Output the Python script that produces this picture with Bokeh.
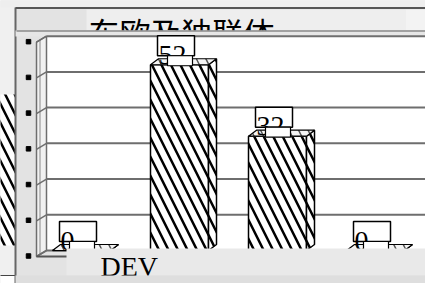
from bokeh.plotting import figure
from bokeh.models import Range1d
from bokeh.core.properties import value
from bokeh.embed import file_html
from bokeh.resources import INLINE

# ---- data ----
title_text = "东欧及独联体"
x_label = "DEV"
categories = ["A", "B", "C", "D"]
values = [0, 52, 32, 0]
y_ticks = [0, 10, 20, 30, 40, 50, 60]
value_labels = [f"{v:g}" for v in values]

# ---- layout helpers (picture pixel -> data) ----
X0, XS = 81.0, 98.0      # x of first category centre, px per category
Y0, YS = 250.0, 3.572    # y of value 0, px per unit
W, H = 425, 283


def X(px):
    return (px - X0) / XS


def Y(py):
    return (Y0 - py) / YS


def DX(n):
    return n / XS


def DY(n):
    return n / YS


p = figure(width=W, height=H,
           x_range=Range1d(X(0), X(W)), y_range=Range1d(Y(H), Y(0)),
           x_axis_type=None, y_axis_type=None,
           output_backend="svg", toolbar_location=None, min_border=0)
p.outline_line_color = None
p.background_fill_color = "#e3e3e3"
p.border_fill_color = "#e3e3e3"

HATCH = dict(hatch_pattern="\\", hatch_color="black", hatch_weight=2.5, hatch_scale=19)

# far-left strip (part of neighbouring chart)
p.quad(left=[X(-2)], right=[X(15)], bottom=[Y(H + 2)], top=[Y(-2)], fill_color="#f0f0f0", line_color=None)
p.quad(left=[X(-6)], right=[X(15)], bottom=[Y(245)], top=[Y(94)], fill_color="white", line_color=None, **HATCH)
p.quad(left=[X(-2)], right=[X(15)], bottom=[Y(H + 2)], top=[Y(275)], fill_color="white", line_color="#444444", line_width=1)
# panel top area above the frame line
p.quad(left=[X(-2)], right=[X(W + 2)], bottom=[Y(7)], top=[Y(-2)], fill_color="#eeeeee", line_color=None)
# panel borders
p.segment(x0=[X(15)], y0=[Y(7)], x1=[X(15)], y1=[Y(H + 2)], line_color="#666666", line_width=2)
p.segment(x0=[X(15)], y0=[Y(7.5)], x1=[X(W + 2)], y1=[Y(7.5)], line_color="#555555", line_width=2)

# title box
p.quad(left=[X(86)], right=[X(405)], bottom=[Y(30)], top=[Y(9)], fill_color="#eeeeee", line_color=None)
p.quad(left=[X(405)], right=[X(W + 2)], bottom=[Y(30)], top=[Y(9)], fill_color="#f3f3f3", line_color=None)
p.text(x=[X(88)], y=[Y(31)], text=[title_text], text_font=value("Noto Sans CJK SC"),
       text_font_size="31px", text_baseline="alphabetic", text_align="left", text_color="black")
# strip below title that hides the lower part of it
p.quad(left=[X(15)], right=[X(W + 2)], bottom=[Y(36)], top=[Y(30)], fill_color="#e6e6e6", line_color=None)
p.segment(x0=[X(16)], y0=[Y(30.5)], x1=[X(W + 2)], y1=[Y(30.5)], line_color="#8a8a8a", line_width=1.5)

# plot area (back wall)
top_v = y_ticks[-1]
p.quad(left=[X(46)], right=[X(430)], bottom=[0], top=[top_v], fill_color="white", line_color=None)
# left wall
p.patch(x=[X(36), X(46), X(46), X(36)], y=[top_v - DY(6), top_v, 0, -DY(6)],
        fill_color="#f1f1f1", line_color="#6e6e6e", line_width=1.5)
p.segment(x0=[X(39.5)], y0=[top_v - DY(4)], x1=[X(39.5)], y1=[-DY(4)], line_color="#8a8a8a", line_width=1)

# gridlines
n_t = len(y_ticks)
p.segment(x0=[X(46)] * n_t, y0=y_ticks, x1=[X(430)] * n_t, y1=y_ticks, line_color="#6e6e6e", line_width=2)
p.segment(x0=[X(36)] * n_t, y0=[t - DY(6) for t in y_ticks], x1=[X(46)] * n_t, y1=y_ticks,
          line_color="#6e6e6e", line_width=1.5)
p.segment(x0=[X(430)], y0=[0], x1=[X(430)], y1=[top_v], line_color="#6e6e6e", line_width=2)
# floor front edge
p.segment(x0=[X(36)], y0=[-DY(6)], x1=[X(70)], y1=[-DY(6)], line_color="#555555", line_width=2)
# tick marks
p.scatter(x=[X(28)] * n_t, y=[t - DY(5.5) for t in y_ticks], marker="square", size=4.5,
          fill_color="black", line_color="black")

# bars
idx = list(range(len(categories)))
hw, d, h = DX(29), DX(8), DY(6)
p.quad(left=[i - hw for i in idx], right=[i + hw for i in idx], bottom=[0] * len(idx), top=values,
       fill_color="white", line_color="black", line_width=1.5, **HATCH)
p.patches(xs=[[i + hw, i + hw + d, i + hw + d, i + hw] for i in idx],
          ys=[[0, h, v + h, v] for v in values],
          fill_color="white", line_color="black", line_width=1.5, **HATCH)
p.patches(xs=[[i - hw, i + hw, i + hw + d, i - hw + d] for i in idx],
          ys=[[v, v, v + h, v + h] for v in values],
          fill_color="#f4f4f4", line_color="black", line_width=1.2,
          hatch_pattern="\\", hatch_color="#555555", hatch_weight=1.5, hatch_scale=19)

# value labels (clipped look)
p.quad(left=[i - DX(22) for i in idx], right=[i + DX(15) for i in idx],
       bottom=[v + DY(9) for v in values], top=[v + DY(29) for v in values],
       fill_color="white", line_color="black", line_width=1.5)
p.text(x=[i - DX(21) for i in idx], y=[v + DY(10) for v in values], text=value_labels,
       text_font=value("Liberation Serif"), text_font_size="28px",
       text_baseline="alphabetic", text_align="left", text_color="black")
p.quad(left=[i - DX(12) for i in idx], right=[i + DX(13) for i in idx],
       bottom=[v - DY(1) for v in values], top=[v + DY(9) for v in values],
       fill_color="white", line_color="black", line_width=1.2)

# bottom band with axis label
p.quad(left=[X(66)], right=[X(W + 2)], bottom=[Y(275)], top=[Y(248)], fill_color="#e9e9e9", line_color=None)
p.text(x=[X(100)], y=[Y(266)], text=[x_label], text_font=value("Liberation Serif"),
       text_font_size="28px", text_baseline="alphabetic", text_align="left", text_color="black")
p.quad(left=[X(15)], right=[X(W + 2)], bottom=[Y(H + 2)], top=[Y(275)], fill_color="#dedede", line_color=None)

open("out.html", "w").write(file_html(p, INLINE))
